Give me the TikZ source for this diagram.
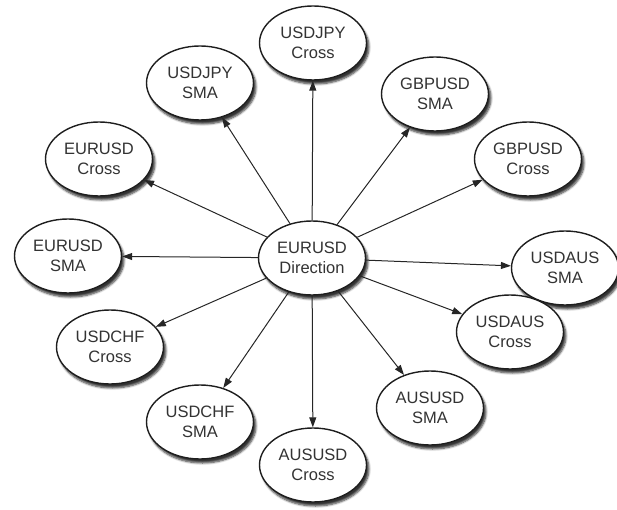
\documentclass[tikz,border=0pt]{standalone}
\usepackage{fontspec}
\setmainfont{Liberation Sans}
\usetikzlibrary{shapes.geometric,arrows.meta,shadows.blur}
\definecolor{bubbleline}{HTML}{1E1E1E}
\definecolor{bubbletext}{HTML}{333333}
\definecolor{linkgray}{HTML}{262626}

\begin{document}
\begin{tikzpicture}[x=1pt,y=-1pt,
  bubble/.style={ellipse, draw=bubbleline, line width=1.4pt, fill=white,
    minimum width=107pt, minimum height=74pt, inner sep=0pt,
    align=center, text=bubbletext, font=\fontsize{16.5}{20}\selectfont,
    blur shadow={shadow xshift=2.5pt, shadow yshift=-4pt, shadow blur steps=6, shadow opacity=80}},
  link/.style={draw=linkgray, line width=1pt, -{Triangle[length=10pt,width=7pt]}}]
\useasboundingbox (0,0) rectangle (617,510);

% Centre node
\node[bubble] (dir) at (312,258) {EURUSD\\Direction};

% Inputs round the centre
\node[bubble] (jpyx) at (313,43) {USDJPY\\Cross};
\node[bubble] (jpys) at (200,83) {USDJPY\\SMA};
\node[bubble] (gbps) at (435,94) {GBPUSD\\SMA};
\node[bubble] (gbpx) at (528,159) {GBPUSD\\Cross};
\node[bubble] (eurx) at (99,159) {EURUSD\\Cross};
\node[bubble] (eurs) at (68,256) {EURUSD\\SMA};
\node[bubble] (usas) at (565,268) {USDAUS\\SMA};
\node[bubble] (chfx) at (110,347) {USDCHF\\Cross};
\node[bubble] (usax) at (510,332) {USDAUS\\Cross};
\node[bubble] (chfs) at (200,422) {USDCHF\\SMA};
\node[bubble] (auss) at (430,408) {AUSUSD\\SMA};
\node[bubble] (ausx) at (313,465) {AUSUSD\\Cross};

% Arrows out of the centre
\foreach \n in {jpyx,jpys,gbps,gbpx,eurx,eurs,usas,chfx,usax,chfs,auss,ausx}
  \draw[link] (dir) -- (\n);
\end{tikzpicture}
\end{document}
